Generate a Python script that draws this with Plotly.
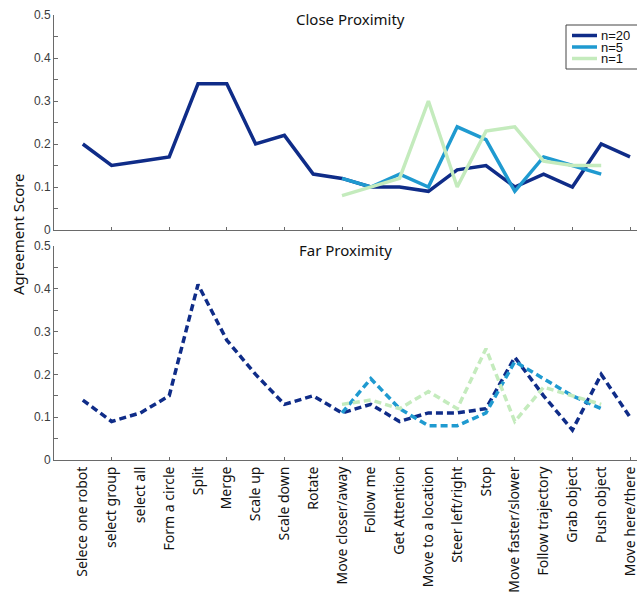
import plotly.graph_objects as go

categories = ["Selece one robot", "select group", "select all", "Form a circle", "Split",
              "Merge", "Scale up", "Scale down", "Rotate", "Move closer/away", "Follow me",
              "Get Attention", "Move to a location", "Steer left/right", "Stop",
              "Move faster/slower", "Follow trajectory", "Grab object", "Push object",
              "Move here/there"]
x_pos = list(range(1, len(categories) + 1))

close_n20 = [0.20, 0.15, 0.16, 0.17, 0.34, 0.34, 0.20, 0.22, 0.13, 0.12,
             0.10, 0.10, 0.09, 0.14, 0.15, 0.10, 0.13, 0.10, 0.20, 0.17]
close_n5 = [None] * 9 + [0.12, 0.10, 0.13, 0.10, 0.24, 0.21, 0.09, 0.17, 0.15, 0.13, None]
close_n1 = [None] * 9 + [0.08, 0.10, 0.12, 0.30, 0.10, 0.23, 0.24, 0.16, 0.15, 0.15, None]

far_n20 = [0.14, 0.09, 0.11, 0.15, 0.41, 0.28, 0.20, 0.13, 0.15, 0.11,
           0.13, 0.09, 0.11, 0.11, 0.12, 0.24, 0.15, 0.07, 0.20, 0.10]
far_n5 = [None] * 9 + [0.11, 0.19, 0.12, 0.08, 0.08, 0.11, 0.23, 0.19, 0.15, 0.12, None]
far_n1 = [None] * 9 + [0.13, 0.14, 0.12, 0.16, 0.12, 0.26, 0.09, 0.17, 0.15, 0.13, None]

series_names = ["n=20", "n=5", "n=1"]
colors = ["#0f2c88", "#1f9ad0", "#c4ebbd"]
y_ticks = [0, 0.1, 0.2, 0.3, 0.4, 0.5]
x_minor_ticks = list(range(0, 21, 2))

W, H = 637, 604
ML, MR, MT, MB = 54, 0, 15, 144
LW = 3.5

fig = go.Figure()
for vals, name, col in zip([close_n20, close_n5, close_n1], series_names, colors):
    fig.add_trace(go.Scatter(x=x_pos, y=vals, mode="lines", name=name,
                             line=dict(color=col, width=LW), xaxis="x", yaxis="y",
                             showlegend=False, connectgaps=False))
for vals, name, col in zip([far_n20, far_n5, far_n1], series_names, colors):
    fig.add_trace(go.Scatter(x=x_pos, y=vals, mode="lines", name=name,
                             line=dict(color=col, width=LW, dash="7px,4px"),
                             xaxis="x2", yaxis="y2", showlegend=False))
# invisible trace to host the tick-mark overlay axis
fig.add_trace(go.Scatter(x=[0], y=[0], mode="lines", xaxis="x3", yaxis="y2",
                         showlegend=False, hoverinfo="skip", line=dict(width=0)))

plot_w = W - ML - MR
plot_h = H - MT - MB
xmax = 20 + (plot_w - 20 * 28.8) / 28.8

def px_to_py(py):
    return (H - MB - py) / plot_h

def px_x(px):
    return (px - ML) / plot_w

top_dom = [px_to_py(230), 1]
bot_dom = [0, px_to_py(246)]

axcol = "#6a6a6a"
tickfont = dict(family="Arial, Liberation Sans, sans-serif", size=12, color="#3c3c3c")

yaxis_common = dict(range=[0, 0.5], tickvals=y_ticks, ticktext=[f"{v:g}" for v in y_ticks],
                    ticks="inside", ticklen=4, tickcolor=axcol, showline=True,
                    linecolor=axcol, linewidth=1, showgrid=False, zeroline=False,
                    tickfont=tickfont,
                    minor=dict(dtick=0.05, tick0=0, ticks="inside", ticklen=4,
                               tickcolor=axcol, showgrid=False))

fig.update_layout(
    width=W, height=H,
    margin=dict(l=ML, r=MR, t=MT, b=MB, autoexpand=False),
    plot_bgcolor="white", paper_bgcolor="white",
    xaxis=dict(domain=[0, 1], anchor="y", range=[0, xmax], tickvals=x_minor_ticks,
               showticklabels=False, ticks="inside", ticklen=3, tickcolor=axcol,
               showline=True, linecolor=axcol, linewidth=1, showgrid=False, zeroline=False),
    yaxis=dict(domain=top_dom, anchor="x", **yaxis_common),
    xaxis2=dict(domain=[0, 1], anchor="y2", range=[0, xmax], tickvals=x_pos,
                ticktext=categories, tickangle=-90, ticks="", showline=True,
                linecolor=axcol, linewidth=1, showgrid=False, zeroline=False,
                ticklabeloverflow="allow",
                tickfont=dict(family="Noto Sans, Open Sans, sans-serif", size=14, color="#111111")),
    xaxis3=dict(overlaying="x2", anchor="y2", range=[0, xmax], tickvals=x_minor_ticks,
                showticklabels=False, ticks="inside", ticklen=3, tickcolor=axcol,
                showline=False, showgrid=False, zeroline=False, side="bottom"),
    yaxis2=dict(domain=bot_dom, anchor="x2", **yaxis_common),
    showlegend=False,
)

title_font = dict(family="Noto Sans, Open Sans, sans-serif", size=15, color="#111111")
fig.add_annotation(text="Close Proximity", xref="paper", yref="paper", x=px_x(350),
                   y=px_to_py(19), showarrow=False, font=title_font, yanchor="middle")
fig.add_annotation(text="Far Proximity", xref="paper", yref="paper", x=px_x(345.5),
                   y=px_to_py(250), showarrow=False, font=title_font, yanchor="middle")
fig.add_annotation(text="Agreement Score", xref="paper", yref="paper",
                   x=px_x(18), y=px_to_py(234), textangle=-90, showarrow=False,
                   font=title_font, xanchor="center", yanchor="middle")

# legend box
fig.add_shape(type="rect", xref="paper", yref="paper", x0=px_x(566), x1=px_x(660),
              y0=px_to_py(69), y1=px_to_py(25), line=dict(color="#444444", width=1),
              fillcolor="white", layer="above")
row_y = [35.5, 47, 58.5]
for name, col, ry in zip(series_names, colors, row_y):
    fig.add_shape(type="line", xref="paper", yref="paper", x0=px_x(572), x1=px_x(597),
                  y0=px_to_py(ry), y1=px_to_py(ry), line=dict(color=col, width=LW),
                  layer="above")
    fig.add_annotation(text=name, xref="paper", yref="paper", x=px_x(599), y=px_to_py(ry),
                       xanchor="left", yanchor="middle", showarrow=False, height=11,
                       valign="middle",
                       font=dict(family="Arial, Liberation Sans, sans-serif", size=13,
                                 color="#111111"))

fig.write_html("out.html", config={"displayModeBar": False},
               post_script="document.body.style.margin='0';")
